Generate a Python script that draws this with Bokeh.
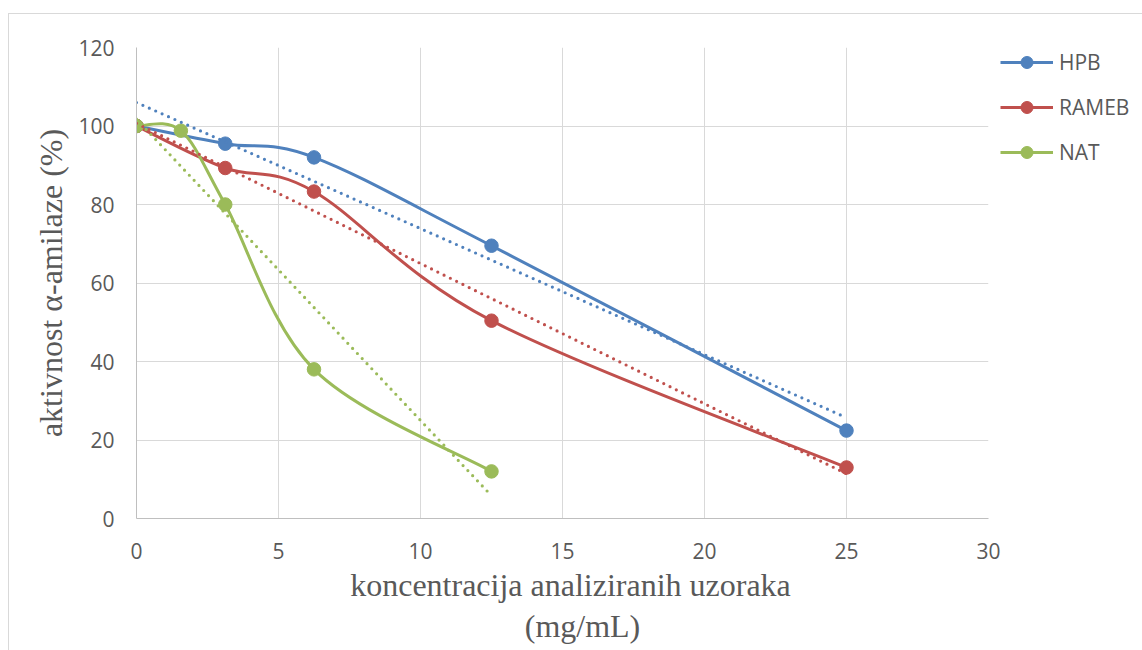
import numpy as np
from bokeh.plotting import figure
from bokeh.models import Legend, LegendItem, Range1d, ColumnDataSource
from bokeh.embed import file_html
from bokeh.resources import INLINE

# ---- data ----
conc_hpb = [0, 3.125, 6.25, 12.5, 25]
act_hpb = [100, 95.5, 92.0, 69.5, 22.4]
conc_rameb = [0, 3.125, 6.25, 12.5, 25]
act_rameb = [100, 89.3, 83.3, 50.4, 13.0]
conc_nat = [0, 1.5625, 3.125, 6.25, 12.5]
act_nat = [100, 98.8, 80.0, 38.0, 12.0]

series_names = ["HPB", "RAMEB", "NAT"]
series_colors = ["#4F81BD", "#C0504D", "#9BBB59"]
x_ticks = [0, 5, 10, 15, 20, 25, 30]
y_ticks = [0, 20, 40, 60, 80, 100, 120]

x_title_lines = ["koncentracija analiziranih uzoraka", "(mg/mL)"]
y_title = "aktivnost \u03b1-amilaze (%)"

TEXT = "#595959"
TICK_FONT = "Open Sans"
TITLE_FONT = "Liberation Serif"
NB = "\u00a0"


def smooth_segments(xs, ys):
    """Excel-like smoothed line: cubic Bezier segments (Catmull-Rom tangents)."""
    P = np.column_stack([xs, ys]).astype(float)
    n = len(P)
    d = dict(x0=[], y0=[], x1=[], y1=[], cx0=[], cy0=[], cx1=[], cy1=[])
    for i in range(n - 1):
        p0 = P[i - 1] if i > 0 else P[i]
        p1 = P[i]
        p2 = P[i + 1]
        p3 = P[i + 2] if i + 2 < n else P[i + 1]
        c1 = p1 + (p2 - p0) / 6.0
        c2 = p2 - (p3 - p1) / 6.0
        d["x0"].append(p1[0]); d["y0"].append(p1[1])
        d["x1"].append(p2[0]); d["y1"].append(p2[1])
        d["cx0"].append(c1[0]); d["cy0"].append(c1[1])
        d["cx1"].append(c2[0]); d["cy1"].append(c2[1])
    return ColumnDataSource(d)


p = figure(
    frame_width=852, frame_height=471,
    x_range=Range1d(0, 30), y_range=Range1d(0, 120),
    output_backend="svg", toolbar_location=None,
    min_border_left=127, min_border_right=152,
    min_border_top=33, min_border_bottom=132,
)
p.styles = {"margin-left": "8px", "margin-top": "13px",
            "border-left": "1px solid #D9D9D9", "border-top": "1px solid #D9D9D9"}
p.outline_line_color = None
p.background_fill_color = "white"
p.border_fill_color = "white"

for g, ticks in ((p.xgrid, x_ticks), (p.ygrid, y_ticks)):
    g.ticker = ticks
    g.grid_line_color = "#D9D9D9"
    g.grid_line_width = 1

p.xaxis.ticker = x_ticks
p.yaxis.ticker = y_ticks
for ax in (p.xaxis, p.yaxis):
    ax.axis_line_color = "#BFBFBF"
    ax.axis_line_width = 1
    ax.major_tick_line_color = None
    ax.minor_tick_line_color = None
    ax.major_tick_out = 0
    ax.major_tick_in = 0
    ax.major_label_text_font = TICK_FONT
    ax.major_label_text_font_size = "21px"
    ax.major_label_text_color = TEXT
    ax.axis_label_text_font = TITLE_FONT
    ax.axis_label_text_font_size = "32px"
    ax.axis_label_text_font_style = "normal"
    ax.axis_label_text_color = TEXT
    ax.axis_label_text_line_height = 1.15

# leading no-break spaces nudge each centred line to the reference position
p.xaxis.axis_label = NB * 2 + x_title_lines[0] + "\n" + NB * 5 + x_title_lines[1]
p.yaxis.axis_label = y_title
p.yaxis.major_label_standoff = 22
p.xaxis.major_label_standoff = 24
p.yaxis.axis_label_standoff = 6
p.xaxis.axis_label_standoff = 5

series = [(conc_hpb, act_hpb), (conc_rameb, act_rameb), (conc_nat, act_nat)]
items = []
for (xs, ys), name, color in zip(series, series_names, series_colors):
    curve = p.bezier(x0="x0", y0="y0", x1="x1", y1="y1", cx0="cx0", cy0="cy0",
                     cx1="cx1", cy1="cy1", source=smooth_segments(xs, ys),
                     line_color=color, line_width=3)
    m = p.scatter(x=xs, y=ys, size=13.5, marker="circle", fill_color=color,
                  line_color=color)
    items.append(LegendItem(label=name, renderers=[curve, m]))

# linear trendlines (least squares on the series data)
for (xs, ys), color in zip(series, series_colors):
    coef = np.polyfit(xs, ys, 1)
    xt = [min(xs), max(xs)]
    yt = list(np.polyval(coef, xt))
    p.line(x=xt, y=yt, line_color=color, line_width=3.2, line_dash="0 7",
           line_cap="round")

legend = Legend(items=items, location=(12, 351), margin=0, padding=0,
                spacing=15, glyph_width=53, glyph_height=30, label_height=30,
                label_standoff=6,
                border_line_color=None, background_fill_alpha=0,
                label_text_font=TICK_FONT, label_text_font_size="21px",
                label_text_color=TEXT)
p.add_layout(legend, "right")

open("out.html", "w").write(file_html(p, INLINE))
